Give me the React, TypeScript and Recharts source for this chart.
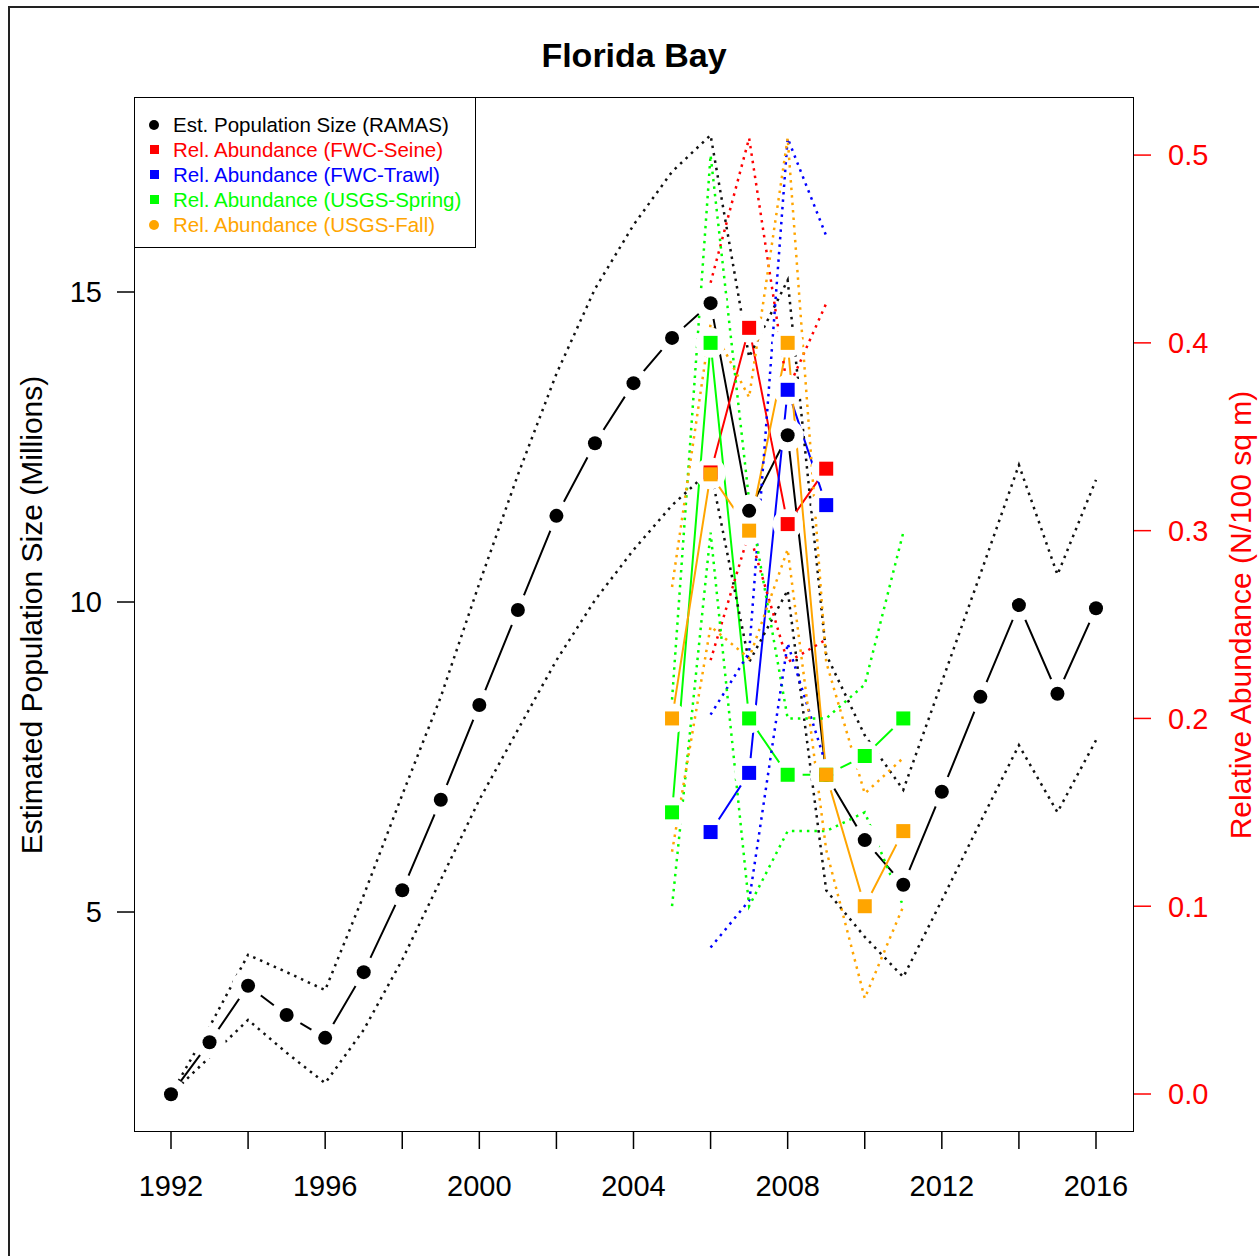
import React from 'react';
import { ComposedChart, Line, XAxis, YAxis } from 'recharts';

// Estimated population (RAMAS), left axis, millions
const years = [1992, 1993, 1994, 1995, 1996, 1997, 1998, 1999, 2000, 2001, 2002, 2003, 2004, 2005, 2006, 2007, 2008, 2009, 2010, 2011, 2012, 2013, 2014, 2015, 2016];
const ramas = [2.06, 2.90, 3.81, 3.34, 2.97, 4.03, 5.35, 6.81, 8.34, 9.87, 11.39, 12.56, 13.53, 14.26, 14.82, 11.47, 12.69, 7.21, 6.16, 5.44, 6.94, 8.47, 9.95, 8.52, 9.90];
const ramasHi = [2.06, 3.15, 4.31, 4.03, 3.74, 5.27, 6.89, 8.47, 10.3, 12.05, 13.68, 15.05, 16.08, 16.94, 17.53, 13.95, 15.19, 9.15, 7.85, 6.97, 8.71, 10.45, 12.21, 10.44, 11.97];
const ramasLo = [2.06, 2.66, 3.26, 2.73, 2.24, 3.10, 4.23, 5.52, 6.81, 7.94, 9.06, 10.03, 10.84, 11.56, 12.13, 9.03, 10.19, 5.35, 4.6, 3.95, 5.19, 6.45, 7.69, 6.61, 7.77];

// Relative abundance series, right axis
const seineYears = [2006, 2007, 2008, 2009];
const seine = [0.331, 0.408, 0.3035, 0.333];
const seineHi = [0.432, 0.509, 0.375, 0.421];
const seineLo = [0.231, 0.299, 0.23, 0.242];

const trawlYears = [2006, 2007, 2008, 2009];
const trawl = [0.1395, 0.171, 0.375, 0.3136];
const trawlHi = [0.202, 0.235, 0.509, 0.457];
const trawlLo = [0.078, 0.103, 0.24, 0.175];

const springYears = [2005, 2006, 2007, 2008, 2009, 2010, 2011];
const spring = [0.15, 0.4, 0.2, 0.17, 0.17, 0.18, 0.2];
const springHi = [0.21, 0.5, 0.316, 0.2, 0.2, 0.218, 0.299];
const springLo = [0.1, 0.299, 0.1, 0.14, 0.14, 0.15, 0.1];

const fallYears = [2005, 2006, 2007, 2008, 2009, 2010, 2011];
const fall = [0.2, 0.33, 0.3, 0.4, 0.17, 0.1, 0.14];
const fallHi = [0.27, 0.41, 0.371, 0.509, 0.23, 0.16, 0.179];
const fallLo = [0.129, 0.249, 0.232, 0.29, 0.13, 0.051, 0.1];

const xTicks = [1992, 1994, 1996, 1998, 2000, 2002, 2004, 2006, 2008, 2010, 2012, 2014, 2016];
const xLabelYears = [1992, 1996, 2000, 2004, 2008, 2012, 2016];
const leftTicks = [5, 10, 15];
const rightTicks = [0, 0.1, 0.2, 0.3, 0.4, 0.5];

const pick = (ys: number[], vals: number[], y: number) => {
  const i = ys.indexOf(y);
  return i < 0 ? null : vals[i];
};

const data = years.map((y, i) => ({
  year: y,
  ramas: ramas[i],
  ramasHi: ramasHi[i],
  ramasLo: ramasLo[i],
  seine: pick(seineYears, seine, y),
  seineHi: pick(seineYears, seineHi, y),
  seineLo: pick(seineYears, seineLo, y),
  trawl: pick(trawlYears, trawl, y),
  trawlHi: pick(trawlYears, trawlHi, y),
  trawlLo: pick(trawlYears, trawlLo, y),
  spring: pick(springYears, spring, y),
  springHi: pick(springYears, springHi, y),
  springLo: pick(springYears, springLo, y),
  fall: pick(fallYears, fall, y),
  fallHi: pick(fallYears, fallHi, y),
  fallLo: pick(fallYears, fallLo, y),
}));

const FONT = '"Liberation Sans", Arial, Helvetica, sans-serif';
const RED = '#ff0000';
const BLUE = '#0000ff';
const GREEN = '#00ff00';
const ORANGE = '#ffa500';

const ok = (p: any) => typeof p.cx === 'number' && typeof p.cy === 'number' && !isNaN(p.cy) && p.value != null && !(Array.isArray(p.value) && p.value[1] == null);

const halo = (r: number) => (p: any) =>
  ok(p) ? <circle key={p.index} cx={p.cx} cy={p.cy} r={r} fill="#fff" stroke="none" /> : <g key={p.index} />;

const square = (color: string) => (p: any) =>
  ok(p) ? <rect key={p.index} x={p.cx - 7} y={p.cy - 7} width={14} height={14} fill={color} /> : <g key={p.index} />;

const circle = (p: any) =>
  ok(p) ? <circle key={p.index} cx={p.cx} cy={p.cy} r={7} fill="#000" /> : <g key={p.index} />;

const dotted = { strokeWidth: 2.5, strokeDasharray: '2.5 5', dot: false, activeDot: false, isAnimationActive: false } as const;

const series = [
  { key: 'seine', color: RED },
  { key: 'trawl', color: BLUE },
  { key: 'spring', color: GREEN },
  { key: 'fall', color: ORANGE },
];

const legendItems = [
  { label: 'Est. Population Size (RAMAS)', color: '#000', shape: 'circle' },
  { label: 'Rel. Abundance (FWC-Seine)', color: RED, shape: 'square' },
  { label: 'Rel. Abundance (FWC-Trawl)', color: BLUE, shape: 'square' },
  { label: 'Rel. Abundance (USGS-Spring)', color: GREEN, shape: 'square' },
  { label: 'Rel. Abundance (USGS-Fall)', color: ORANGE, shape: 'circle' },
];

export default function App() {
  return (
    <div style={{ position: 'absolute', left: 0, top: 0, width: 1259, height: 1256, background: '#fff', overflow: 'hidden', fontFamily: FONT }}>
      <div style={{ position: 'absolute', left: 8, top: 6, width: 1250, height: 1270, border: '2px solid #222' }} />
      <div style={{ position: 'absolute', left: 0, top: 34, width: 1268, textAlign: 'center', fontSize: 34, fontWeight: 'bold', lineHeight: '42px' }}>
        Florida Bay
      </div>
      <ComposedChart
        width={1259}
        height={1256}
        data={data}
        margin={{ top: 98, right: 46, left: 75, bottom: 65 }}
        style={{ position: 'absolute', left: 0, top: 0 }}
      >
        <XAxis
          dataKey="year"
          type="number"
          domain={[1991.066, 2016.96]}
          allowDataOverflow
          ticks={xTicks}
          interval={0}
          tickFormatter={(v: number) => (xLabelYears.includes(v) ? String(v) : '')}
          axisLine={false}
          tickSize={18}
          tickMargin={26}
          tickLine={{ stroke: '#000', strokeWidth: 1.5 }}
          tick={{ fontSize: 29, fill: '#000', fontFamily: FONT }}
          height={60}
        />
        <YAxis
          yAxisId="left"
          orientation="left"
          type="number"
          domain={[1.468, 18.129]}
          allowDataOverflow
          ticks={leftTicks}
          interval={0}
          axisLine={false}
          tickSize={18}
          tickMargin={15}
          tickLine={{ stroke: '#000', strokeWidth: 1.5 }}
          tick={{ fontSize: 29, fill: '#000', fontFamily: FONT }}
          width={60}
        />
        <YAxis
          yAxisId="right"
          orientation="right"
          type="number"
          domain={[-0.0197, 0.5304]}
          allowDataOverflow
          ticks={rightTicks}
          interval={0}
          tickFormatter={(v: number) => v.toFixed(1)}
          axisLine={false}
          tickSize={18}
          tickMargin={17}
          tickLine={{ stroke: RED, strokeWidth: 1.5 }}
          tick={{ fontSize: 29, fill: RED, fontFamily: FONT }}
          width={80}
        />

        {/* solid lines with gaps around the points */}
        <Line yAxisId="left" dataKey="ramas" stroke="#000" strokeWidth={2} dot={halo(16)} activeDot={false} isAnimationActive={false} />
        {series.map((s) => (
          <Line key={s.key} yAxisId="right" dataKey={s.key} stroke={s.color} strokeWidth={2} dot={halo(15)} activeDot={false} isAnimationActive={false} />
        ))}

        {/* confidence bounds */}
        <Line yAxisId="left" dataKey="ramasHi" stroke="#111" {...dotted} />
        <Line yAxisId="left" dataKey="ramasLo" stroke="#111" {...dotted} />
        {series.map((s) => (
          <Line key={s.key + 'Hi'} yAxisId="right" dataKey={s.key + 'Hi'} stroke={s.color} {...dotted} />
        ))}
        {series.map((s) => (
          <Line key={s.key + 'Lo'} yAxisId="right" dataKey={s.key + 'Lo'} stroke={s.color} {...dotted} />
        ))}

        {/* markers */}
        <Line yAxisId="left" dataKey="ramas" stroke="none" dot={circle} activeDot={false} isAnimationActive={false} />
        {series.map((s) => (
          <Line key={s.key + 'Pt'} yAxisId="right" dataKey={s.key} stroke="none" dot={square(s.color)} activeDot={false} isAnimationActive={false} />
        ))}
      </ComposedChart>

      {/* plot box */}
      <div style={{ position: 'absolute', left: 134, top: 97, width: 998, height: 1033, border: '1.5px solid #000', pointerEvents: 'none' }} />

      {/* legend */}
      <div style={{ position: 'absolute', left: 134, top: 97, width: 340, height: 149, border: '1.5px solid #000', background: '#fff' }}>
        {legendItems.map((it, i) => (
          <div key={it.label} style={{ position: 'absolute', left: 0, top: 14 + i * 25, height: 25, display: 'flex', alignItems: 'center' }}>
            <div style={{ width: 38, display: 'flex', justifyContent: 'center' }}>
              <div style={{ width: it.shape === 'circle' ? 10 : 9, height: it.shape === 'circle' ? 10 : 9, background: it.color, borderRadius: it.shape === 'circle' ? '50%' : 0 }} />
            </div>
            <span style={{ fontSize: 20.5, color: it.color, whiteSpace: 'nowrap' }}>{it.label}</span>
          </div>
        ))}
      </div>

      {/* axis titles */}
      <div style={{ position: 'absolute', left: 32 - 300, top: 615 - 17, width: 600, height: 34, lineHeight: '34px', textAlign: 'center', fontSize: 30, transform: 'rotate(-90deg)', whiteSpace: 'nowrap' }}>
        Estimated Population Size (Millions)
      </div>
      <div style={{ position: 'absolute', left: 1241 - 300, top: 615 - 17, width: 600, height: 34, lineHeight: '34px', textAlign: 'center', fontSize: 30, color: RED, transform: 'rotate(-90deg)', whiteSpace: 'nowrap' }}>
        Relative Abundance (N/100 sq m)
      </div>
    </div>
  );
}
